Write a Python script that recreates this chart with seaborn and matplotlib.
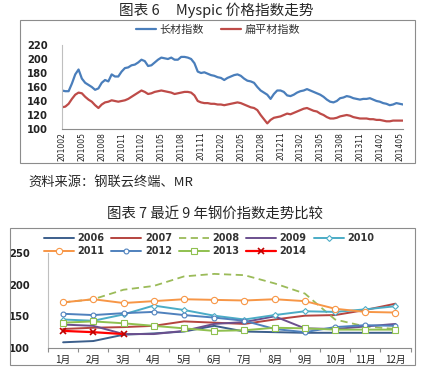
import numpy as np
import pandas as pd
import seaborn as sns
import matplotlib.pyplot as plt
from matplotlib.patches import Rectangle
from matplotlib.lines import Line2D

sns.set_theme(style="white")
plt.rcParams['font.family'] = ['Noto Sans CJK SC', 'DejaVu Sans']

# ---------------------------------------------------------------
# 图表 6 : half-monthly index, 2010-02 .. 2014-05
# ---------------------------------------------------------------
long_idx = [155, 154, 154, 165, 178, 185, 172, 166, 163, 160,
            156, 158, 166, 170, 168, 178, 175, 175, 182, 187,
            188, 191, 192, 195, 199, 197, 190, 191, 195, 199,
            202, 201, 200, 202, 199, 199, 203, 203, 202, 200,
            194, 182, 180, 181, 179, 177, 176, 174, 173, 170,
            173, 175, 177, 178, 176, 172, 169, 168, 166, 160,
            155, 152, 149, 143, 150, 155, 155, 153, 148, 147,
            149, 152, 154, 155, 157, 155, 153, 151, 149, 146,
            142, 139, 138, 140, 144, 145, 147, 146, 144, 143,
            142, 143, 143, 144, 142, 140, 139, 137, 136, 134,
            135, 137, 136, 135]
flat_idx = [131, 132, 136, 143, 149, 152, 151, 146, 142, 139,
            134, 130, 135, 138, 139, 141, 140, 139, 140, 141,
            143, 146, 149, 152, 155, 153, 150, 151, 153, 154,
            155, 154, 153, 152, 150, 151, 152, 153, 153, 152,
            148, 140, 138, 137, 137, 136, 136, 135, 135, 134,
            135, 136, 137, 138, 137, 135, 133, 131, 130, 127,
            120, 114, 108, 113, 116, 117, 118, 120, 122, 121,
            123, 125, 127, 129, 130, 128, 126, 125, 122, 120,
            117, 115, 115, 116, 118, 119, 120, 119, 117, 116,
            115, 115, 115, 114, 114, 113, 113, 112, 111, 111,
            112, 112, 112, 112]
tick_months = list(pd.period_range('2010-02', '2014-05', freq='M')[::3].strftime('%Y%m'))

# ---------------------------------------------------------------
# 图表 7 : monthly index for 9 years
# ---------------------------------------------------------------
months = [f"{i}月" for i in range(1, 13)]
y2006 = [109, 111, 121, 123, 126, 135, 126, 125, 124, 124, 124, 124]
y2007 = [130, 132, 133, 135, 142, 140, 138, 145, 151, 152, 160, 170]
y2008 = [172, 177, 192, 198, 213, 217, 215, 202, 186, 145, 134, 130]
y2009 = [137, 135, 122, 122, 127, 138, 141, 150, 131, 130, 134, 138]
y2010 = [145, 143, 153, 167, 160, 151, 145, 152, 158, 157, 161, 166]
y2011 = [172, 177, 171, 174, 177, 176, 175, 177, 174, 162, 157, 156]
y2012 = [154, 152, 155, 157, 152, 148, 143, 130, 125, 133, 136, 135]
y2013 = [140, 142, 139, 135, 131, 127, 128, 132, 131, 129, 129, 129]
y2014 = [127, 125, 122]

W, H = 430, 376
fig = plt.figure(figsize=(W / 100, H / 100), dpi=100)


def rect(x0, y0, x1, y1):
    # pixel box (top-left origin) -> figure fraction
    return [x0 / W, 1 - y1 / H, (x1 - x0) / W, (y1 - y0) / H]


# ---------------- top chart ----------------
fig.text(216 / W, 1 - 10 / H, "图表 6     Myspic 价格指数走势", ha='center', va='center', fontsize=10.5)
fig.patches.append(Rectangle((20 / W, 1 - 163 / H), 395 / W, 143 / H, fill=False,
                             edgecolor='#8c8c8c', lw=0.8, transform=fig.transFigure))

ax1 = fig.add_axes(rect(62, 45, 403, 129))
df1 = pd.DataFrame({"k": np.arange(len(long_idx)), "长材指数": long_idx, "扁平材指数": flat_idx})
sns.lineplot(data=df1, x="k", y="长材指数", ax=ax1, color="#4a7ebb", lw=1.6, label="长材指数")
sns.lineplot(data=df1, x="k", y="扁平材指数", ax=ax1, color="#be4b48", lw=1.6, label="扁平材指数")
ax1.set_xlim(0, len(long_idx) - 1)
ax1.set_ylim(100, 220)
ax1.set_yticks(range(100, 221, 20))
ax1.set_xticks(np.arange(len(tick_months)) * 6)
ax1.set_xticklabels(tick_months, rotation=90, fontsize=5.5, family='DejaVu Sans')
ax1.tick_params(axis='y', labelsize=7.2, length=0, pad=10, labelcolor='#222222')
ax1.tick_params(axis='x', length=0, pad=2, labelcolor='#222222')
for t in ax1.get_yticklabels():
    t.set_family('DejaVu Sans')
    t.set_fontweight('bold')
ax1.set_xlabel("")
ax1.set_ylabel("")
for s in ['top', 'right']:
    ax1.spines[s].set_visible(False)
ax1.spines['left'].set_color('#bfbfbf')
ax1.spines['bottom'].set_color('#8c8c8c')
ax1.spines['left'].set_linewidth(0.8)
ax1.spines['bottom'].set_linewidth(0.8)
leg1 = ax1.legend(loc='center', bbox_to_anchor=(218 / W, 1 - 30 / H), bbox_transform=fig.transFigure,
                  ncol=2, frameon=False, fontsize=8, handlelength=1.8, columnspacing=1.6,
                  handletextpad=0.3)
for t in leg1.get_texts():
    t.set_color('#333333')

fig.text(28 / W, 1 - 183 / H, "资料来源：钢联云终端、MR", ha='left', va='center', fontsize=9.5)

# ---------------- bottom chart ----------------
fig.text(215 / W, 1 - 215 / H, "图表 7 最近 9 年钢价指数走势比较", ha='center', va='center', fontsize=10.4)
fig.patches.append(Rectangle((10 / W, 1 - 365 / H), 405 / W, 137 / H, fill=False,
                             edgecolor='#8c8c8c', lw=0.8, transform=fig.transFigure))

ax2 = fig.add_axes(rect(48, 253, 410.6, 348))
series = [
    ("2006", y2006, dict(color="#3c5f8c", lw=1.4)),
    ("2007", y2007, dict(color="#b5443f", lw=1.4)),
    ("2008", y2008, dict(color="#9bbb59", lw=1.3, linestyle=(0, (4, 2.5)))),
    ("2009", y2009, dict(color="#6b4f8e", lw=1.4)),
    ("2010", y2010, dict(color="#4bacc6", lw=1.4, marker='D', ms=3, mfc='white', mec="#4bacc6", mew=0.8)),
    ("2011", y2011, dict(color="#f79646", lw=1.4, marker='o', ms=4.5, mfc='white', mec="#f79646", mew=0.8)),
    ("2012", y2012, dict(color="#4f81bd", lw=1.4, marker='o', ms=3.5, mfc='white', mec="#4f81bd", mew=0.8)),
    ("2013", y2013, dict(color="#8fc04f", lw=1.4, marker='s', ms=4, mfc='white', mec="#8fc04f", mew=0.8)),
    ("2014", y2014, dict(color="#ff0000", lw=1.6, marker='x', ms=4, mec="#c00000", mew=1.2)),
]
handles = {}
for name, vals, kw in series:
    sns.lineplot(x=np.arange(len(vals)), y=vals, ax=ax2, **kw)
    handles[name] = Line2D([], [], **kw)

ax2.set_xlim(-0.5, 11.5)
ax2.set_ylim(100, 250)
ax2.set_yticks([100, 150, 200, 250])
ax2.set_xticks(range(12))
ax2.set_xticklabels(months, fontsize=7)
ax2.set_xticks(np.arange(-0.5, 12, 1), minor=True)
ax2.tick_params(axis='x', which='major', length=0, pad=5, labelcolor='#222222')
ax2.tick_params(axis='x', which='minor', length=3, width=0.8, color='#8c8c8c', bottom=True, direction='out')
ax2.tick_params(axis='y', labelsize=7.2, length=0, pad=13, labelcolor='#222222')
for t in ax2.get_yticklabels():
    t.set_family('DejaVu Sans')
    t.set_fontweight('bold')
for s in ['top', 'right']:
    ax2.spines[s].set_visible(False)
ax2.spines['left'].set_color('#bfbfbf')
ax2.spines['bottom'].set_color('#8c8c8c')
ax2.spines['left'].set_linewidth(0.8)
ax2.spines['bottom'].set_linewidth(0.8)

order = ["2006", "2011", "2007", "2012", "2008", "2013", "2009", "2014", "2010"]
leg = ax2.legend([handles[n] for n in order], order, loc='upper left',
                 bbox_to_anchor=(44 / W, 1 - 233 / H), bbox_transform=fig.transFigure,
                 ncol=5, frameon=False, fontsize=7, handlelength=3.1, columnspacing=0.7,
                 handletextpad=0.35, labelspacing=0.3, borderpad=0, borderaxespad=0)
for t in leg.get_texts():
    t.set_family('DejaVu Sans')
    t.set_fontweight('bold')
    t.set_color('#333333')

fig.savefig("out.png", dpi=100)
